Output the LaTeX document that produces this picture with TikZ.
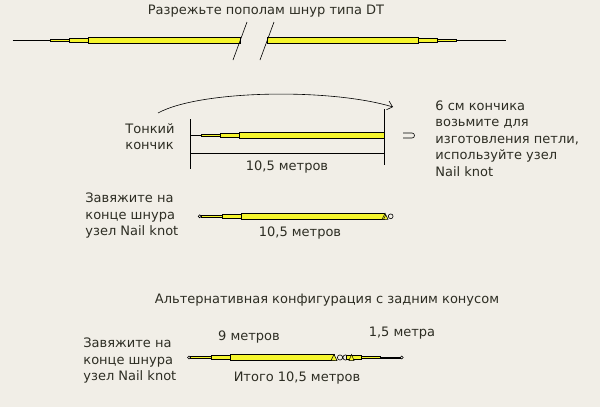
\documentclass[tikz,border=0pt]{standalone}
\usepackage{fontspec}
\setmainfont{DejaVu Sans}
\usetikzlibrary{arrows.meta}
\definecolor{paper}{RGB}{241,238,231}
\definecolor{flyyellow}{RGB}{245,245,45}
\definecolor{ink}{RGB}{45,45,35}

\begin{document}
\begin{tikzpicture}[x=1pt,y=-1pt,line width=.8pt,text=ink,
    font=\fontsize{13}{16.5}\selectfont,
    band/.style={draw=black,fill=flyyellow,line width=.8pt},
    loopknot/.style={draw=black,fill=paper,line width=.6pt},
    lbl/.style={inner sep=0pt,align=left,anchor=west}]
    \fill[paper] (0,0) rectangle (600,407);
    \useasboundingbox (0,0) rectangle (600,407);

    % whole line, cut in the middle
    \node (cut) at (266,11) {Разрежьте пополам шнур типа DT};
    \draw (12.7,40) -- (50,40) (456,40) -- (506,40);
    \draw[band] (50,39) rectangle (69,41) (69,38) rectangle (88,42) (88,37) rectangle (240.4,43);
    \draw[band] (267.4,37) rectangle (418,43) (418,38) rectangle (437,42) (437,39) rectangle (456,41);
    \draw[line width=.6pt] (233,60) -- (247,22) (260,60) -- (274,22);

    % thin tip
    \node[lbl] (tip) at (125,136.5) {Тонкий\\кончик};
    \draw (190,119) -- (190,169) (384,109) -- (384,165) (190,153) -- (384,153);
    \draw (190,135.5) -- (201,135.5);
    \draw[band] (201,134.5) rectangle (220,136.5) (220,133.5) rectangle (239,137.5) (239,132.5) rectangle (384,138.5);
    \node (len1) at (287,167) {10,5 метров};
    \coordinate (arcstart) at (158,113);
    \coordinate (arcend) at (393,107);
    \draw[-{Straight Barb[length=5pt,width=9pt]},line width=.6pt] (arcstart) .. controls (200,90) and (330,88) .. (arcend);
    \draw[line width=.6pt] (403,133) -- (412,133) arc[start angle=-90,end angle=90,radius=2.5] -- (403,138);
    \node[lbl,anchor=north west] (howto) at (435,100) {6 см кончика\\возьмите для\\изготовления петли,\\используйте узел\\Nail knot};

    % tip tied on
    \node[lbl] (tie1) at (85,216) {Завяжите на\\конце шнура\\узел Nail knot};
    \draw[band] (201,215.3) rectangle (222,217.3) (222,214.3) rectangle (241,218.3) (241,213.3) rectangle (384,219.3);
    \draw[band,line width=.5pt] (382,219.3) -- (385,213.3) -- (388,219.3) -- cycle (383.5,219.3) -- (386,214.5);
    \draw[loopknot] (199.7,216.3) circle[radius=1.5] (390.7,216.3) circle[radius=2.4];
    \node (len2) at (300,233) {10,5 метров};

    % back taper
    \node (alt) at (327,300) {Альтернативная конфигурация с задним конусом};
    \node (nine) at (249,337) {9 метров};
    \node (onehalf) at (402,333) {1,5 метра};
    \node[lbl] (tie2) at (83,361) {Завяжите на\\конце шнура\\узел Nail knot};
    \draw[band] (190.5,356.7) rectangle (211,358.3) (211,355.5) rectangle (230,359.5) (230,354.5) rectangle (334,360.5);
    \draw[loopknot] (340,357.5) circle[radius=2.6] (345.5,357.5) circle[radius=2.6];
    \draw[band] (346,355.5) rectangle (361,359.5) (361,356.5) rectangle (380,358.5) (380,357) rectangle (400,358);
    \draw[band,line width=.5pt] (331,360.5) -- (334,354.5) -- (337,360.5) -- cycle (349,360.5) -- (351.5,354.5) -- (354,360.5) -- cycle;
    \draw[loopknot] (189,357.5) circle[radius=1.5] (401.8,357.5) circle[radius=1.5];
    \node (total) at (297,378) {Итого 10,5 метров};
\end{tikzpicture}
\end{document}
